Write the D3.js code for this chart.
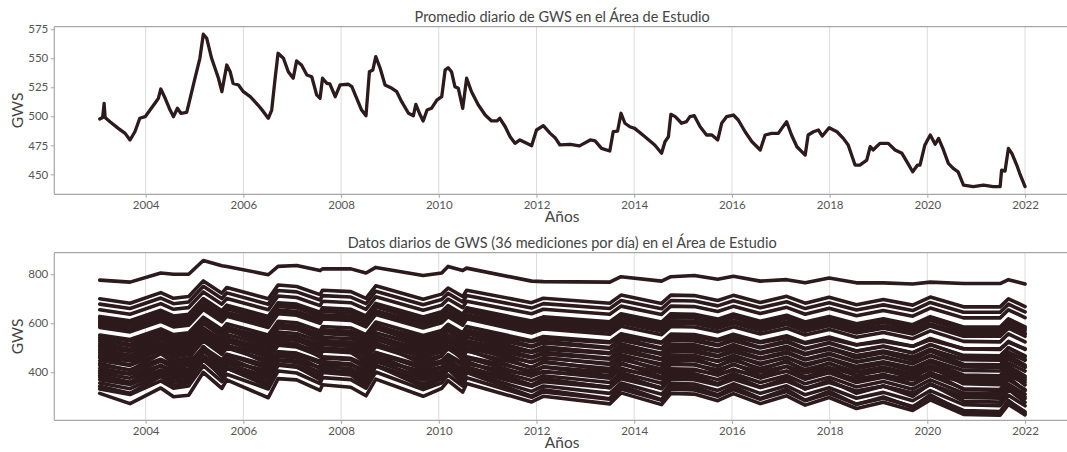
<!DOCTYPE html>
<html>
<head>
<meta charset="utf-8">
<script src="https://cdn.jsdelivr.net/npm/d3@7"></script>
<style>
  body { margin: 0; background: #fff; }
  svg { display: block; font-family: Lato, "Open Sans", sans-serif; }
</style>
</head>
<body>
<svg id="chart" width="1067" height="452"></svg>
<script>
// Daily mean GWS over the study area (decimal year, value)
const meanYears = [2003.06,2003.12,2003.15,2003.17,2003.27,2003.44,2003.58,2003.68,2003.78,2003.88,2003.99,2004.09,2004.19,2004.26,2004.31,2004.40,2004.50,2004.57,2004.65,2004.72,2004.84,2004.91,2005.01,2005.11,2005.18,2005.25,2005.35,2005.42,2005.49,2005.56,2005.66,2005.73,2005.79,2005.90,2006.00,2006.14,2006.30,2006.41,2006.51,2006.58,2006.65,2006.71,2006.82,2006.92,2007.02,2007.09,2007.19,2007.30,2007.40,2007.50,2007.57,2007.62,2007.71,2007.77,2007.88,2007.98,2008.15,2008.22,2008.32,2008.42,2008.51,2008.58,2008.65,2008.71,2008.80,2008.90,2009.04,2009.14,2009.24,2009.38,2009.48,2009.53,2009.62,2009.68,2009.76,2009.85,2009.96,2010.06,2010.13,2010.19,2010.26,2010.33,2010.40,2010.49,2010.57,2010.67,2010.81,2010.95,2011.08,2011.19,2011.25,2011.36,2011.46,2011.56,2011.66,2011.80,2011.90,2012.00,2012.14,2012.28,2012.38,2012.48,2012.69,2012.88,2013.10,2013.20,2013.33,2013.50,2013.57,2013.66,2013.73,2013.81,2013.91,2014.01,2014.22,2014.42,2014.56,2014.63,2014.70,2014.75,2014.84,2014.97,2015.07,2015.14,2015.23,2015.35,2015.48,2015.59,2015.71,2015.79,2015.89,2016.03,2016.13,2016.27,2016.41,2016.58,2016.68,2016.81,2016.95,2017.02,2017.12,2017.22,2017.33,2017.50,2017.56,2017.67,2017.77,2017.85,2017.99,2018.15,2018.28,2018.38,2018.45,2018.52,2018.62,2018.76,2018.83,2018.89,2019.03,2019.20,2019.34,2019.48,2019.58,2019.70,2019.80,2019.85,2019.95,2020.06,2020.16,2020.23,2020.33,2020.43,2020.53,2020.63,2020.74,2020.94,2021.15,2021.35,2021.49,2021.52,2021.59,2021.66,2021.73,2021.83,2021.89,2022.00];
const meanValues = [497.7,499,511.2,499,495.3,489.6,485.3,479.6,486.7,498.3,499.7,505.4,511.2,515.5,523.5,515.5,505.4,499.7,506.9,502.6,503.4,515.5,532.8,550,570.7,567.2,550,541.4,532.8,521.2,544.2,538.4,528.4,527,521.2,516.9,509.7,504,498.3,505.4,532.8,554.3,550,538.4,532.8,547.7,544.2,535.6,534.1,518.4,515.5,532.8,528.4,528,516.9,527,527.6,525.5,515.5,505.4,500.5,538.4,539.9,551.4,541.4,527,524.1,521.2,512.6,502.6,500.5,510.3,501.1,496,505.4,506.9,514,516.9,539.9,541.9,538.4,525.5,524.1,506.9,532.8,521.2,509.7,501.1,496,496,498.3,491,482.4,476.7,479.6,476.7,474.7,488.2,491.9,485.3,481.6,475.3,475.9,474.5,479.6,478.8,472.4,470.1,486.7,487.3,502.6,494,491,489.6,482.4,475.3,468.1,478.1,482.4,501.7,499.7,494,495.4,499.7,500.5,491,483.9,483.9,479.6,494,499.7,501.1,496.8,486.7,478.1,471,483.9,485.3,485.3,489.6,495.3,483.9,473.8,466.6,483.9,486.7,488.2,483,490.2,486.7,481,475.3,466.6,458,458,462.3,473.8,471,476.7,476.7,471,468.1,460.9,452.2,458,458,475.3,483.9,475.9,481,471,459.5,455.2,452.2,440.8,439.4,440.8,439.4,439.4,453.7,452.8,472.4,468.1,458,450.9,439.4];

// Sample dates shared by the 36 daily measurement series
const stationYears = [2003.06,2003.68,2004.31,2004.57,2004.88,2005.18,2005.56,2005.66,2006.51,2006.71,2007.09,2007.57,2007.62,2008.20,2008.51,2008.71,2009.68,2010.06,2010.19,2010.49,2010.57,2011.90,2012.14,2013.50,2013.73,2014.56,2014.75,2015.23,2015.71,2016.03,2016.58,2017.12,2017.50,2017.99,2018.55,2019.10,2019.70,2020.06,2020.74,2021.49,2021.66,2022.00];

const gws01 = [776,768,805,800,800,856,835,832,798,832,836,815,822,822,805,828,795,805,832,815,825,772,770,768,790,772,790,795,780,792,772,778,765,785,765,765,760,768,762,762,778,760];
const gws02 = [700,682,725,702,709,773,723,746,700,756,750,717,735,729,702,753,698,719,744,709,735,684,702,682,715,681,715,713,693,714,685,710,682,706,676,697,674,707,667,667,700,668];
const gws03 = [678,660,703,680,687,751,701,724,678,734,728,695,713,707,680,731,676,697,722,687,713,662,680,660,693,659,693,691,671,692,663,688,660,684,654,675,652,685,645,645,678,646];
const gws04 = [655,637,680,657,664,728,678,701,655,711,705,672,690,684,657,708,653,674,699,664,690,639,657,637,670,636,670,668,648,669,640,665,637,661,631,652,629,662,622,622,655,623];
const gws05 = [628,610,653,630,637,701,651,674,628,684,678,645,663,657,630,681,626,647,672,637,663,609,626,606,639,605,639,637,617,638,608,633,605,628,598,618,594,627,585,585,618,585];
const gws06 = [621,603,646,623,630,694,644,667,621,677,671,638,656,650,623,674,619,640,665,630,656,602,619,599,632,598,632,630,610,631,601,626,598,621,591,611,587,620,578,578,611,578];
const gws07 = [613,595,638,615,622,686,636,659,613,669,663,630,648,642,615,666,611,632,657,622,648,594,611,591,624,590,624,622,602,623,593,618,590,613,583,603,579,612,570,570,603,570];
const gws08 = [606,592,626,608,613,664,624,643,606,651,646,620,634,629,608,648,604,621,641,613,634,588,601,584,610,582,609,608,592,608,584,604,581,600,574,589,569,595,560,559,585,559];
const gws09 = [598,580,623,600,607,671,621,644,598,654,648,615,633,627,600,651,596,617,642,607,633,579,596,576,609,575,609,607,587,608,578,603,575,598,568,588,564,597,555,555,588,555];
const gws10 = [590,572,615,592,599,663,613,636,590,646,640,607,625,619,592,643,588,609,634,599,625,571,588,568,601,567,601,599,579,600,570,595,567,590,560,580,556,589,547,547,580,547];
const gws11 = [583,565,608,585,592,656,606,629,583,639,633,600,618,612,585,636,581,602,627,592,618,560,577,555,588,553,587,585,565,586,556,580,552,575,543,562,537,569,526,524,557,524];
const gws12 = [552,534,577,554,561,625,575,598,552,608,602,569,587,581,554,605,550,571,596,561,587,529,546,524,557,522,556,554,534,555,525,549,521,544,512,531,506,538,495,493,526,493];
const gws13 = [543,529,563,545,550,601,561,580,543,588,583,557,571,566,545,585,541,558,578,550,571,525,538,521,547,519,546,545,529,545,521,541,518,537,511,526,506,532,497,496,522,496];
const gws14 = [534,514,562,536,544,614,559,585,534,596,589,553,573,566,536,592,532,555,582,544,573,507,526,501,538,499,536,534,512,535,502,528,497,522,487,507,479,514,466,464,500,464];
const gws15 = [526,508,551,528,535,599,549,572,526,582,576,543,561,555,528,579,524,545,570,535,561,503,520,498,531,496,530,528,508,529,499,523,495,518,486,505,480,512,469,467,500,467];
const gws16 = [516,494,546,518,527,604,544,571,516,583,576,536,558,551,518,580,514,539,569,527,558,484,504,476,516,473,514,512,488,513,476,505,471,498,458,480,449,487,433,430,469,429];
const gws17 = [508,490,533,510,517,581,531,554,508,564,558,525,543,537,510,561,506,527,552,517,543,485,502,480,513,478,512,510,490,511,481,505,477,500,468,487,462,494,451,449,482,449];
const gws18 = [499,485,519,501,506,557,517,536,499,544,539,513,527,522,501,541,497,514,534,506,527,481,494,477,503,475,502,501,485,501,477,497,474,493,467,482,462,488,453,452,478,452];
const gws19 = [490,470,518,492,500,570,515,541,490,552,545,509,529,522,492,548,488,511,538,500,529,463,482,457,494,455,492,490,468,491,458,484,453,478,443,463,435,470,422,420,456,420];
const gws20 = [481,463,506,483,490,554,504,527,481,537,531,498,516,510,483,534,479,500,525,490,516,458,475,453,486,451,485,483,463,484,454,478,450,473,441,460,435,467,424,422,455,422];
const gws21 = [472,450,502,474,483,560,500,527,472,539,532,492,514,507,474,536,470,495,525,483,514,440,460,432,472,429,470,468,444,469,432,461,427,454,414,436,405,443,389,386,425,385];
const gws22 = [464,446,489,466,473,537,487,510,464,520,514,481,499,493,466,517,462,483,508,473,499,441,458,436,469,434,468,466,446,467,437,461,433,456,424,443,418,450,407,405,438,405];
const gws23 = [459,430,499,462,473,576,496,533,459,549,539,486,515,505,462,544,456,489,529,473,515,418,445,408,461,404,459,456,424,457,409,447,402,438,385,415,373,424,353,349,401,348];
const gws24 = [448,428,476,450,458,528,473,499,448,510,503,467,487,480,450,506,446,469,496,458,487,421,440,415,452,413,450,448,426,449,416,442,411,436,401,421,393,428,380,378,414,378];
const gws25 = [436,407,476,439,450,553,473,510,436,526,516,463,492,482,439,521,433,466,506,450,492,395,422,385,438,381,436,433,401,434,386,424,379,415,362,392,350,401,330,326,378,325];
const gws26 = [428,410,453,430,437,501,451,474,428,484,478,445,463,457,430,481,426,447,472,437,463,405,422,400,433,398,432,430,410,431,401,425,397,420,388,407,382,414,371,369,402,369];
const gws27 = [416,394,446,418,427,504,444,471,416,483,476,436,458,451,418,480,414,439,469,427,458,384,404,376,416,373,414,412,388,413,376,405,371,398,358,380,349,387,333,330,369,329];
const gws28 = [406,392,426,408,413,464,424,443,406,451,446,420,434,429,408,448,404,421,441,413,434,388,401,384,410,382,409,408,392,408,384,404,381,400,374,389,369,395,360,359,385,359];
const gws29 = [398,376,428,400,409,486,426,453,398,465,458,418,440,433,400,462,396,421,451,409,440,366,386,358,398,355,396,394,370,395,358,387,353,380,340,362,331,369,315,312,351,311];
const gws30 = [388,359,428,391,402,505,425,462,388,478,468,415,444,434,391,473,385,418,458,402,444,347,374,337,390,333,388,385,353,386,338,376,331,367,314,344,302,353,282,278,330,277];
const gws31 = [380,358,410,382,391,468,408,435,380,447,440,400,422,415,382,444,378,403,433,391,422,348,368,340,380,337,378,376,352,377,340,369,335,362,322,344,313,351,297,294,333,293];
const gws32 = [370,350,398,372,380,450,395,421,370,432,425,389,409,402,372,428,368,391,418,380,409,343,362,337,374,335,372,370,348,371,338,364,333,358,323,343,315,350,302,300,336,300];
const gws33 = [356,333,389,359,368,451,386,416,356,429,421,378,402,394,359,425,353,381,413,368,402,322,344,314,356,310,355,352,326,353,314,345,308,337,294,318,284,325,268,264,306,263];
const gws34 = [343,314,383,346,357,460,380,417,343,433,423,370,399,389,346,428,340,373,413,357,399,302,329,292,345,288,343,340,308,341,293,331,286,322,269,299,257,308,237,233,285,232];
const gws35 = [332,309,365,335,344,427,362,392,332,405,397,354,378,370,335,401,329,357,389,344,378,298,320,290,332,286,331,328,302,329,290,321,284,313,270,294,260,301,244,240,282,239];
const gws36 = [314,272,336,300,306,400,334,369,296,374,369,326,349,339,304,372,302,334,366,319,354,279,302,271,316,268,314,311,284,313,272,304,266,297,252,278,244,287,228,225,269,226];

const stationSeries = [gws01,gws02,gws03,gws04,gws05,gws06,gws07,gws08,gws09,gws10,gws11,gws12,
  gws13,gws14,gws15,gws16,gws17,gws18,gws19,gws20,gws21,gws22,gws23,gws24,
  gws25,gws26,gws27,gws28,gws29,gws30,gws31,gws32,gws33,gws34,gws35,gws36];

const yearTicks = [2004,2006,2008,2010,2012,2014,2016,2018,2020,2022];
const meanTicks = [450,475,500,525,550,575];
const stationTicks = [400,600,800];

const lineColor = "#2c1a1c";
const svg = d3.select("#chart");
const left = 54.3, right = 1070;

const x = d3.scaleLinear().domain([2002.13, 2022.92]).range([left, right]);

function drawPanel(cfg) {
  const g = svg.append("g");
  const y = d3.scaleLinear().domain(cfg.yDomain).range([cfg.bottom, cfg.top]);

  // vertical grid
  g.append("g").selectAll("line").data(yearTicks).join("line")
    .attr("x1", d => x(d)).attr("x2", d => x(d))
    .attr("y1", cfg.top).attr("y2", cfg.bottom)
    .attr("stroke", "#dcdcdc").attr("stroke-width", 1);

  const line = d3.line().x(d => x(d[0])).y(d => y(d[1]))
    .curve(d3.curveLinear);

  cfg.series.forEach(vals => {
    g.append("path")
      .datum(cfg.years.map((t, i) => [t, vals[i]]))
      .attr("d", line)
      .attr("fill", "none")
      .attr("stroke", lineColor)
      .attr("stroke-width", cfg.width)
      .attr("stroke-linejoin", "round")
      .attr("stroke-linecap", "round");
  });

  // frame
  const frame = "#a6a6a6";
  g.append("line").attr("x1", left).attr("x2", right + 5).attr("y1", cfg.top).attr("y2", cfg.top)
    .attr("stroke", frame).attr("stroke-width", 1.2);
  g.append("line").attr("x1", left).attr("x2", right + 5).attr("y1", cfg.bottom).attr("y2", cfg.bottom)
    .attr("stroke", frame).attr("stroke-width", 1.2);
  g.append("line").attr("x1", left).attr("x2", left).attr("y1", cfg.top).attr("y2", cfg.bottom)
    .attr("stroke", frame).attr("stroke-width", 1.2);

  // axes
  const yAxis = d3.axisLeft(y).tickValues(cfg.yTicks).tickSize(3.5).tickPadding(2.5)
    .tickFormat(d3.format("d"));
  const ya = g.append("g").attr("transform", `translate(${left},0)`).call(yAxis);
  ya.select(".domain").remove();
  ya.selectAll("line").attr("stroke", frame);
  ya.selectAll("text").attr("fill", "#555").attr("font-size", 11.5)
    .attr("font-family", "Lato, sans-serif");

  const xAxis = d3.axisBottom(x).tickValues(yearTicks).tickSize(3.5).tickPadding(3)
    .tickFormat(d3.format("d"));
  const xa = g.append("g").attr("transform", `translate(0,${cfg.bottom})`).call(xAxis);
  xa.select(".domain").remove();
  xa.selectAll("line").attr("stroke", frame);
  xa.selectAll("text").attr("fill", "#555").attr("font-size", 11.5)
    .attr("font-family", "Lato, sans-serif");

  // titles and labels
  const cx = (left + right) / 2;
  g.append("text").attr("x", cx).attr("y", cfg.top - 5)
    .attr("text-anchor", "middle").attr("fill", "#444")
    .attr("font-size", 14.5).text(cfg.title);
  g.append("text").attr("x", cx).attr("y", cfg.bottom + 28)
    .attr("text-anchor", "middle").attr("fill", "#444")
    .attr("font-size", 15.5).text("Años");
  g.append("text")
    .attr("transform", `translate(23,${(cfg.top + cfg.bottom) / 2}) rotate(-90)`)
    .attr("text-anchor", "middle").attr("fill", "#444")
    .attr("font-size", 15.5).text("GWS");
}

drawPanel({
  top: 26.7, bottom: 194.3, yDomain: [432.8, 577.2], yTicks: meanTicks,
  years: meanYears, series: [meanValues], width: 3.3,
  title: "Promedio diario de GWS en el Área de Estudio"
});

drawPanel({
  top: 252.7, bottom: 420.3, yDomain: [204, 888], yTicks: stationTicks,
  years: stationYears, series: stationSeries, width: 3.6,
  title: "Datos diarios de GWS (36 mediciones por día) en el Área de Estudio"
});
</script>
</body>
</html>
